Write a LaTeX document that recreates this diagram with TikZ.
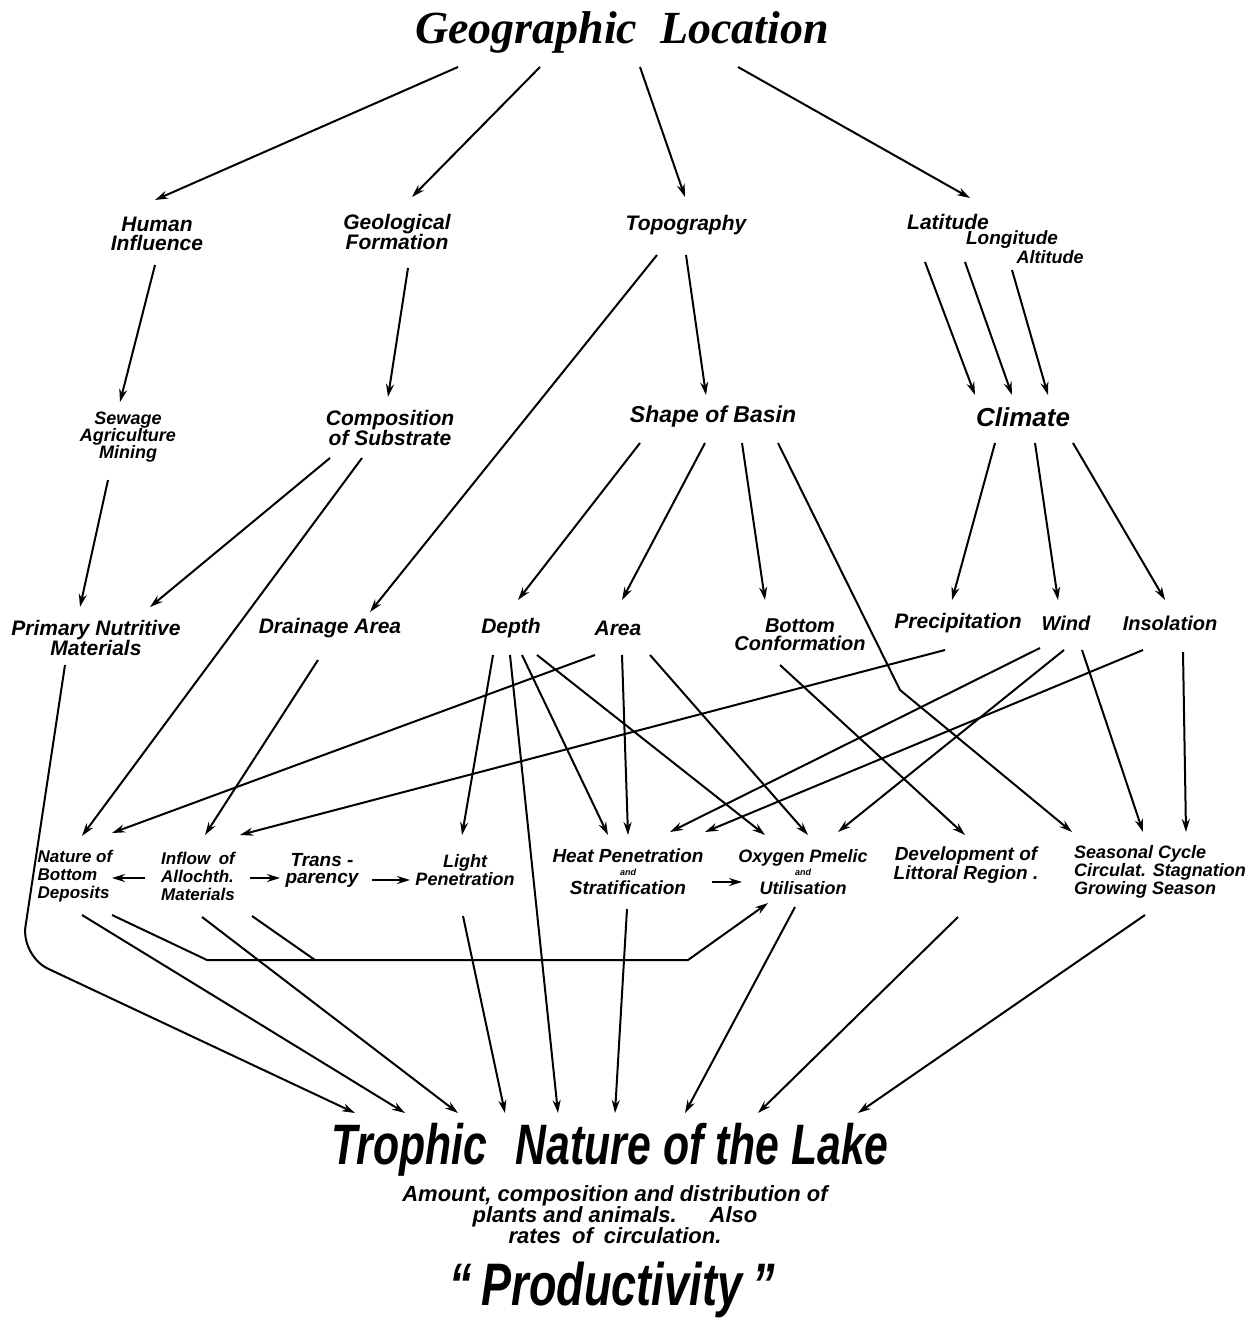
\documentclass[tikz,border=0pt]{standalone}
\usepackage{fontspec}
\newfontfamily\hand{Liberation Sans}
\newfontfamily\handcn[FakeStretch=0.75]{Liberation Sans}
\newfontfamily\titlehand{Liberation Serif}
\newcommand\handsz[2]{\hand\bfseries\itshape\fontsize{#1}{#2}\selectfont}
\newcommand\andsz{\fontsize{9}{9}\selectfont}
\usetikzlibrary{arrows.meta, calc}
\tikzset{
    ->, % every connector is directed
    >={Stealth[length=13pt, width=8pt]}, % small filled heads
    every node/.style={align=center, inner sep=0pt},
    lbl/.style={font=\handsz{21}{19}}, % upper labels
    midlbl/.style={font=\handsz{20}{18}}, % middle row
    lowlbl/.style={font=\handsz{18}{16}}, % bottom row
}

\begin{document}
\begin{tikzpicture}[x=1pt, y=-1pt, line width=2pt]
    \useasboundingbox (0,0) rectangle (1254,1324);

    \node[font=\titlehand\bfseries\itshape\fontsize{46}{46}\selectfont] (geo) at (622,32) {Geographic\enspace Location};

    \node[lbl] (human) at (157,234) {Human\\Influence};
    \node[lbl] (geol) at (397,232) {Geological\\Formation};
    \node[lbl] (topo) at (686,225) {Topography};
    \node[lbl] (lat) at (948,222) {Latitude};
    \node[lbl, font=\handsz{19}{18}] (long) at (1012,240) {Longitude};
    \node[lbl, font=\handsz{18}{18}] (alt) at (1050,257) {Altitude};

    \node[lbl, font=\handsz{18}{17}] (sewage) at (128,437) {Sewage\\Agriculture\\Mining};
    \node[lbl] (comp) at (390,428) {Composition\\of Substrate};
    \node[lbl, font=\handsz{23}{20}] (shape) at (713,417) {Shape of Basin};
    \node[lbl, font=\handsz{26}{20}] (climate) at (1023,417) {Climate};

    \node[midlbl, font=\handsz{21}{18}] (primary) at (96,638) {Primary Nutritive\\Materials};
    \node[midlbl, font=\handsz{21}{18}] (drain) at (330,628) {Drainage Area};
    \node[midlbl, font=\handsz{21}{18}] (depth) at (511,628) {Depth};
    \node[midlbl, font=\handsz{21}{18}] (area) at (618,628) {Area};
    \node[midlbl] (bottom) at (800,635) {Bottom\\Conformation};
    \node[midlbl, font=\handsz{21}{18}] (precip) at (958,623) {Precipitation};
    \node[midlbl] (wind) at (1066,623) {Wind};
    \node[midlbl] (insol) at (1170,623) {Insolation};

    \node[lowlbl, align=left, font=\handsz{17}{18}] (nature) at (75,876) {Nature of\\Bottom\\Deposits};
    \node[lowlbl, align=left, font=\handsz{17}{18}] (inflow) at (198,876) {Inflow\enspace of\\Allochth.\\Materials};
    \node[lowlbl, font=\handsz{19}{17}] (transp) at (322,870) {Trans -\\parency};
    \node[lowlbl] (light) at (465,870) {Light\\Penetration};
    \node[lowlbl, font=\handsz{19}{16}] (heat) at (628,872) {Heat Penetration\\[-3pt]{\andsz and}\\[3pt]Stratification};
    \node[lowlbl] (oxygen) at (803,872) {Oxygen Pmelic\\[-3pt]{\andsz and}\\[3pt]Utilisation};
    \node[lowlbl, font=\handsz{19}{17}] (devel) at (966,865) {Development of\\Littoral Region .};
    \node[lowlbl, align=left] (seasonal) at (1160,872) {Seasonal Cycle\\Circulat. Stagnation\\Growing Season};

    \node[font=\handcn\bfseries\itshape\fontsize{57}{57}\selectfont] (trophic) at (610,1150) {Trophic\enspace Nature of the Lake};
    \node[font=\handsz{22}{21}] (amount) at (615,1215) {Amount, composition and distribution of\\plants and animals.\hspace{1.5em}Also\\rates\enspace of\enspace circulation.};
    \node[font=\handcn\bfseries\itshape\fontsize{60}{60}\selectfont] (product) at (612,1290) {“\,Productivity\,”};

    \coordinate (kink) at (900,690);
    \coordinate (bend) at (21,956);
    \coordinate (hleft) at (207,960);
    \coordinate (hjoin) at (315,960);
    \coordinate (hright) at (688,960);

    % from the location
    \draw ($(geo)+(-164,35)$) -- ($(human)+(-2,-34)$);
    \draw ($(geo)+(-82,35)$) -- ($(geol)+(15,-35)$);
    \draw ($(geo)+(18,35)$) -- ($(topo)+(-1,-28)$);
    \draw ($(geo)+(116,35)$) -- ($(lat)+(22,-24)$);

    \draw ($(human)+(-2,31)$) -- ($(sewage)+(-8,-35)$);
    \draw ($(geol)+(11,36)$) -- ($(comp)+(-2,-31)$);
    \draw ($(topo)+(0,30)$) -- ($(shape)+(-7,-22)$);
    \draw ($(topo)+(-29,30)$) -- ($(drain)+(40,-16)$);
    \draw ($(lat)+(-23,40)$) -- ($(climate)+(-48,-22)$);
    \draw ($(long)+(-47,22)$) -- ($(climate)+(-11,-22)$);
    \draw ($(alt)+(-38,13)$) -- ($(climate)+(25,-22)$);

    \draw ($(sewage)+(-20,43)$) -- ($(primary)+(-16,-31)$);
    \draw ($(comp)+(-60,30)$) -- ($(primary)+(54,-31)$);
    \draw ($(comp)+(-28,30)$) -- ($(nature)+(7,-40)$);
    \draw ($(shape)+(-73,26)$) -- ($(depth)+(7,-28)$);
    \draw ($(shape)+(-8,26)$) -- ($(area)+(4,-28)$);
    \draw ($(shape)+(29,26)$) -- ($(bottom)+(-35,-35)$);
    \draw ($(shape)+(65,26)$) -- (kink) -- ($(seasonal)+(-88,-40)$);
    \draw ($(climate)+(-28,26)$) -- ($(precip)+(-6,-23)$);
    \draw ($(climate)+(12,26)$) -- ($(wind)+(-8,-23)$);
    \draw ($(climate)+(50,26)$) -- ($(insol)+(-5,-23)$);

    % middle row to bottom row
    \draw ($(area)+(-23,27)$) -- ($(nature)+(37,-43)$);
    \draw ($(drain)+(-12,32)$) -- ($(inflow)+(7,-41)$);
    \draw ($(precip)+(-13,27)$) -- ($(inflow)+(42,-41)$);
    \draw ($(depth)+(-18,27)$) -- ($(light)+(-3,-35)$);
    \draw ($(depth)+(11,27)$) -- ($(heat)+(-20,-37)$);
    \draw ($(depth)+(26,27)$) -- ($(oxygen)+(-38,-37)$);
    \draw ($(area)+(4,27)$) -- ($(heat)+(0,-37)$);
    \draw ($(area)+(32,27)$) -- ($(oxygen)+(5,-37)$);
    \draw ($(bottom)+(-20,30)$) -- ($(devel)+(-1,-30)$);
    \draw ($(wind)+(-26,25)$) -- ($(heat)+(42,-40)$);
    \draw ($(wind)+(-2,27)$) -- ($(oxygen)+(35,-40)$);
    \draw ($(wind)+(16,27)$) -- ($(seasonal)+(-17,-40)$);
    \draw ($(insol)+(-27,27)$) -- ($(heat)+(77,-40)$);
    \draw ($(insol)+(13,29)$) -- ($(seasonal)+(26,-40)$);

    \draw ($(inflow)+(-53,2)$) -- ($(nature)+(37,2)$);
    \draw ($(inflow)+(52,2)$) -- ($(transp)+(-42,8)$);
    \draw ($(transp)+(50,10)$) -- ($(light)+(-55,10)$);
    \draw ($(heat)+(84,10)$) -- ($(oxygen)+(-61,10)$);

    % into the lake
    \draw[rounded corners=30] ($(primary)+(-31,27)$) -- (bend) -- ($(trophic)+(-255,-37)$);
    \draw ($(nature)+(7,39)$) -- ($(trophic)+(-205,-37)$);
    \draw ($(nature)+(37,39)$) -- (hleft) -- (hright) -- ($(oxygen)+(-35,31)$);
    \draw[-] ($(inflow)+(54,40)$) -- (hjoin);
    \draw ($(inflow)+(4,41)$) -- ($(trophic)+(-152,-37)$);
    \draw ($(light)+(-2,46)$) -- ($(trophic)+(-105,-37)$);
    \draw ($(depth)+(-1,27)$) -- ($(trophic)+(-52,-37)$);
    \draw ($(heat)+(-1,37)$) -- ($(trophic)+(5,-37)$);
    \draw ($(oxygen)+(-8,35)$) -- ($(trophic)+(75,-37)$);
    \draw ($(devel)+(-8,52)$) -- ($(trophic)+(148,-37)$);
    \draw ($(seasonal)+(-15,43)$) -- ($(trophic)+(248,-37)$);
\end{tikzpicture}
\end{document}
